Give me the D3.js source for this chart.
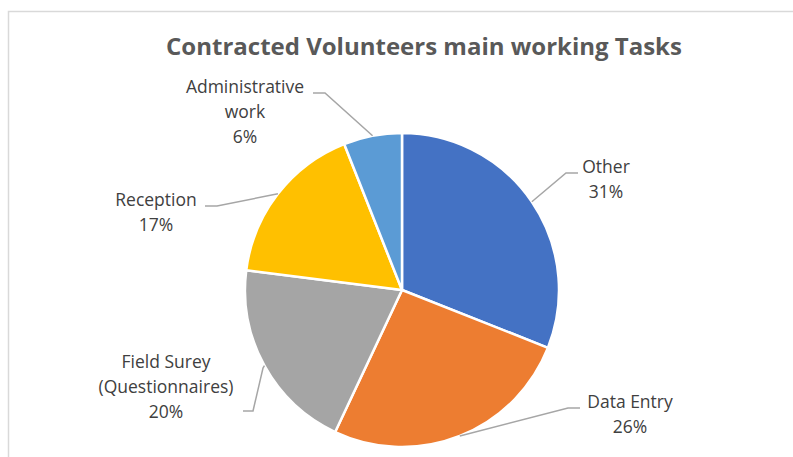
<!DOCTYPE html>
<html>
<head>
<meta charset="utf-8">
<script src="https://cdn.jsdelivr.net/npm/d3@7/dist/d3.min.js"></script>
<style>
  html, body { margin: 0; padding: 0; background: #fff; }
  svg { display: block; }
</style>
</head>
<body>
<svg id="chart" width="793" height="457"></svg>
<script>
// Task categories and their share of volunteer work (%)
const categories = ["Other", "Data Entry", "Field Surey\n(Questionnaires)", "Reception", "Administrative\nwork"];
const shares = [31, 26, 20, 17, 6];
const colors = ["#4472C4", "#ED7D31", "#A5A5A5", "#FFC000", "#5B9BD5"];

// Where each callout's elbow sits and where its text block is centred (first baseline)
const callouts = [
  { elbow: [566, 173], end: [578, 173], text: [606, 173] },
  { elbow: [568, 408], end: [580, 408], text: [630, 408] },
  { elbow: [263, 368], mid: [253, 411], end: [243, 411], text: [166, 368] },
  { elbow: [217, 206], end: [205, 206], text: [156, 206] },
  { elbow: [325, 93], end: [313, 93], text: [245, 93] }
];

const svg = d3.select("#chart");
const W = 793, H = 457;
const cx = 402, cy = 290, R = 157;

// Chart frame
svg.append("rect")
  .attr("x", 8.5).attr("y", 11.5)
  .attr("width", W + 10).attr("height", H + 10)
  .attr("fill", "#fff").attr("stroke", "#d9d9d9").attr("stroke-width", 1.5);

// Title
svg.append("text")
  .attr("x", 424).attr("y", 55)
  .attr("text-anchor", "middle")
  .attr("font-family", "'Open Sans', sans-serif")
  .attr("font-weight", "bold")
  .attr("font-size", 24)
  .attr("fill", "#595959")
  .text("Contracted Volunteers main working Tasks");

const data = categories.map((c, i) => ({ name: c, value: shares[i], color: colors[i], co: callouts[i] }));

const pie = d3.pie().value(d => d.value).sort(null);
const arc = d3.arc().innerRadius(0).outerRadius(R);
const arcs = pie(data);

const g = svg.append("g").attr("transform", `translate(${cx},${cy})`);
g.selectAll("path.slice")
  .data(arcs)
  .join("path")
  .attr("class", "slice")
  .attr("d", arc)
  .attr("fill", d => d.data.color)
  .attr("stroke", "#fff")
  .attr("stroke-width", 2.5)
  .attr("stroke-linejoin", "round");

// Leader lines from each slice's outer edge at its mid-angle
const lines = svg.append("g");
arcs.forEach(a => {
  const mid = (a.startAngle + a.endAngle) / 2;
  const px = cx + R * Math.sin(mid), py = cy - R * Math.cos(mid);
  const co = a.data.co;
  const pts = [[px, py], co.elbow];
  if (co.mid) pts.push(co.mid);
  pts.push(co.end);
  lines.append("path")
    .attr("d", d3.line()(pts))
    .attr("fill", "none")
    .attr("stroke", "#a6a6a6")
    .attr("stroke-width", 1.5);
});

// Labels: category name lines followed by percentage
const labels = svg.append("g")
  .attr("font-family", "'Open Sans', sans-serif")
  .attr("font-size", 17.5)
  .attr("fill", "#404040")
  .attr("text-anchor", "middle");

arcs.forEach(a => {
  const co = a.data.co;
  const rows = a.data.name.split("\n").concat([a.data.value + "%"]);
  const t = labels.append("text")
    .attr("x", co.text[0])
    .attr("y", co.text[1]);
  rows.forEach((r, i) => {
    t.append("tspan")
      .attr("x", co.text[0])
      .attr("dy", i === 0 ? 0 : 25)
      .text(r);
  });
});
</script>
</body>
</html>
